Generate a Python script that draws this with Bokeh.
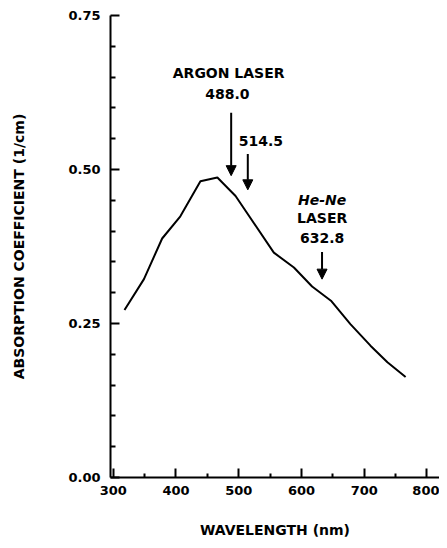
from bokeh.plotting import figure
from bokeh.models import Range1d, FixedTicker, Arrow, NormalHead, ColumnDataSource
from bokeh.core.properties import value
from bokeh.embed import file_html
from bokeh.resources import INLINE

# --- data ---
wavelength = [318, 349, 378, 407, 439, 466, 495, 556, 588, 617, 647, 678, 710, 737, 766]
absorption = [0.272, 0.322, 0.388, 0.424, 0.481, 0.487, 0.457, 0.365, 0.341, 0.310,
              0.287, 0.249, 0.214, 0.187, 0.163]

x_ticks = [300, 400, 500, 600, 700, 800]
x_minor = [350, 450, 550, 650, 750]
y_ticks = [0.0, 0.25, 0.50, 0.75]
y_tick_labels = ["0.00", "0.25", "0.50", "0.75"]
y_minor = [0.05, 0.10, 0.15, 0.20, 0.30, 0.35, 0.40, 0.45, 0.55, 0.60, 0.65, 0.70]

laser_lines = [488.0, 514.5, 632.8]
arrow_top = [0.592, 0.525, 0.366]
arrow_tip = [0.490, 0.467, 0.322]

label_text = ["ARGON LASER", "488.0", "514.5", "LASER", "632.8"]
label_x = [484, 482, 500, 633, 633]
label_y = [0.657, 0.623, 0.547, 0.421, 0.388]
label_align = ["center", "center", "left", "center", "center"]

italic_text = ["He-Ne"]
italic_x = [633]
italic_y = [0.451]

FONT = "DejaVu Sans"

p = figure(width=439, height=540, output_backend="svg", toolbar_location=None,
           x_range=Range1d(295.7, 820), y_range=Range1d(0, 0.75),
           min_border_left=110, min_border_right=0, min_border_top=15, min_border_bottom=61)
p.outline_line_color = None
p.xgrid.visible = False
p.ygrid.visible = False
p.background_fill_color = "white"

p.line(wavelength, absorption, line_color="black", line_width=2)

arrows = ColumnDataSource(dict(x=laser_lines, y0=arrow_top, y1=arrow_tip))
p.add_layout(Arrow(x_start="x", y_start="y0", x_end="x", y_end="y1", source=arrows,
                   line_width=2, line_color="black",
                   end=NormalHead(size=10, fill_color="black", line_color="black", line_width=1)))

src = ColumnDataSource(dict(x=label_x, y=label_y, t=label_text, a=label_align))
p.text(x="x", y="y", text="t", source=src, text_align="a", text_baseline="middle",
       text_font=value(FONT), text_font_style="bold", text_font_size="14px", text_color="black")
src2 = ColumnDataSource(dict(x=italic_x, y=italic_y, t=italic_text))
p.text(x="x", y="y", text="t", source=src2, text_align="center", text_baseline="middle",
       text_font=value(FONT), text_font_style="bold italic", text_font_size="14px", text_color="black")

for ax in (p.xaxis[0], p.yaxis[0]):
    ax.axis_line_width = 2
    ax.axis_line_color = "black"
    ax.major_tick_line_width = 2
    ax.minor_tick_line_width = 2
    ax.major_tick_out = 0
    ax.minor_tick_out = 0
    ax.major_label_text_font = FONT
    ax.major_label_text_font_style = "bold"
    ax.major_label_text_font_size = "13px"
    ax.major_label_text_color = "black"
    ax.axis_label_text_font = FONT
    ax.axis_label_text_font_style = "bold"
    ax.axis_label_text_font_size = "14px"
    ax.axis_label_text_color = "black"

p.xaxis.ticker = FixedTicker(ticks=x_ticks, minor_ticks=x_minor)
p.xaxis.major_tick_in = 9
p.xaxis.minor_tick_in = 4
p.xaxis.major_label_standoff = 8
p.xaxis.axis_label = "WAVELENGTH (nm)"
p.xaxis.axis_label_standoff = 24

p.yaxis.ticker = FixedTicker(ticks=y_ticks, minor_ticks=y_minor)
p.yaxis.major_label_overrides = {t: s for t, s in zip(y_ticks, y_tick_labels)}
p.yaxis.major_tick_in = 9
p.yaxis.minor_tick_in = 5
p.yaxis.major_label_standoff = 10
p.yaxis.axis_label = "ABSORPTION COEFFICIENT (1/cm)"
p.yaxis.axis_label_standoff = 38

open("out.html", "w").write(file_html(p, INLINE))
